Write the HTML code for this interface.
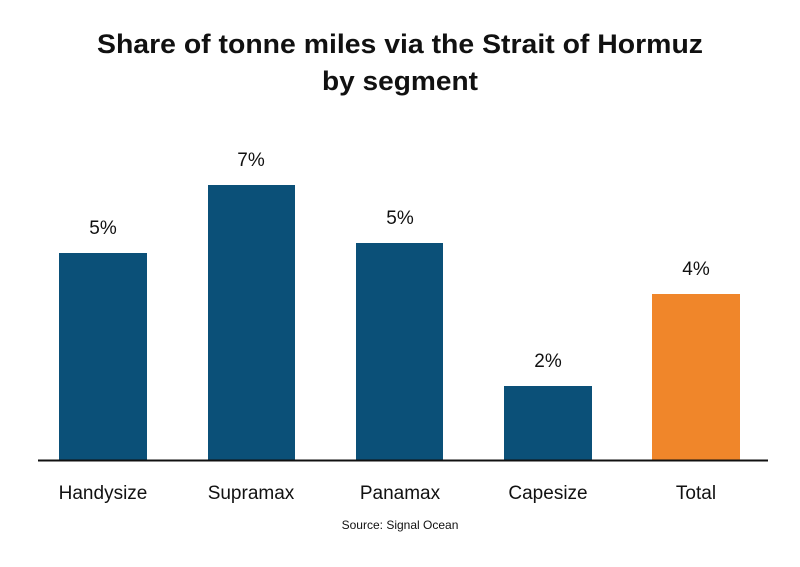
<!DOCTYPE html>
<html><head><style>
body{margin:0;background:#fff;}
svg{display:block;font-family:"Liberation Sans",sans-serif;}
</style></head><body>
<svg width="800" height="567" viewBox="0 0 800 567">
<rect width="800" height="567" fill="#fff"/>
<text x="400" y="53" text-anchor="middle" font-size="27" font-weight="bold" fill="#111" textLength="606" lengthAdjust="spacingAndGlyphs">Share of tonne miles via the Strait of Hormuz</text>
<text x="400" y="90" text-anchor="middle" font-size="27" font-weight="bold" fill="#111" textLength="156" lengthAdjust="spacingAndGlyphs">by segment</text>
<g fill="#0b5078">
<rect x="59" y="253" width="88" height="207"/>
<rect x="208" y="185" width="87" height="275"/>
<rect x="356" y="243" width="87" height="217"/>
<rect x="504" y="386" width="88" height="74"/>
</g>
<rect x="652" y="294" width="88" height="166" fill="#f0862a"/>
<line x1="38" y1="460.5" x2="768" y2="460.5" stroke="#111" stroke-width="2"/>
<g font-size="19" fill="#111" text-anchor="middle">
<text x="103" y="234">5%</text>
<text x="251" y="166">7%</text>
<text x="400" y="224">5%</text>
<text x="548" y="367">2%</text>
<text x="696" y="275">4%</text>
<text x="103" y="499">Handysize</text>
<text x="251" y="499">Supramax</text>
<text x="400" y="499">Panamax</text>
<text x="548" y="499">Capesize</text>
<text x="696" y="499">Total</text>
</g>
<text x="400" y="529" text-anchor="middle" font-size="12" fill="#111">Source: Signal Ocean</text>
</svg>
</body></html>
